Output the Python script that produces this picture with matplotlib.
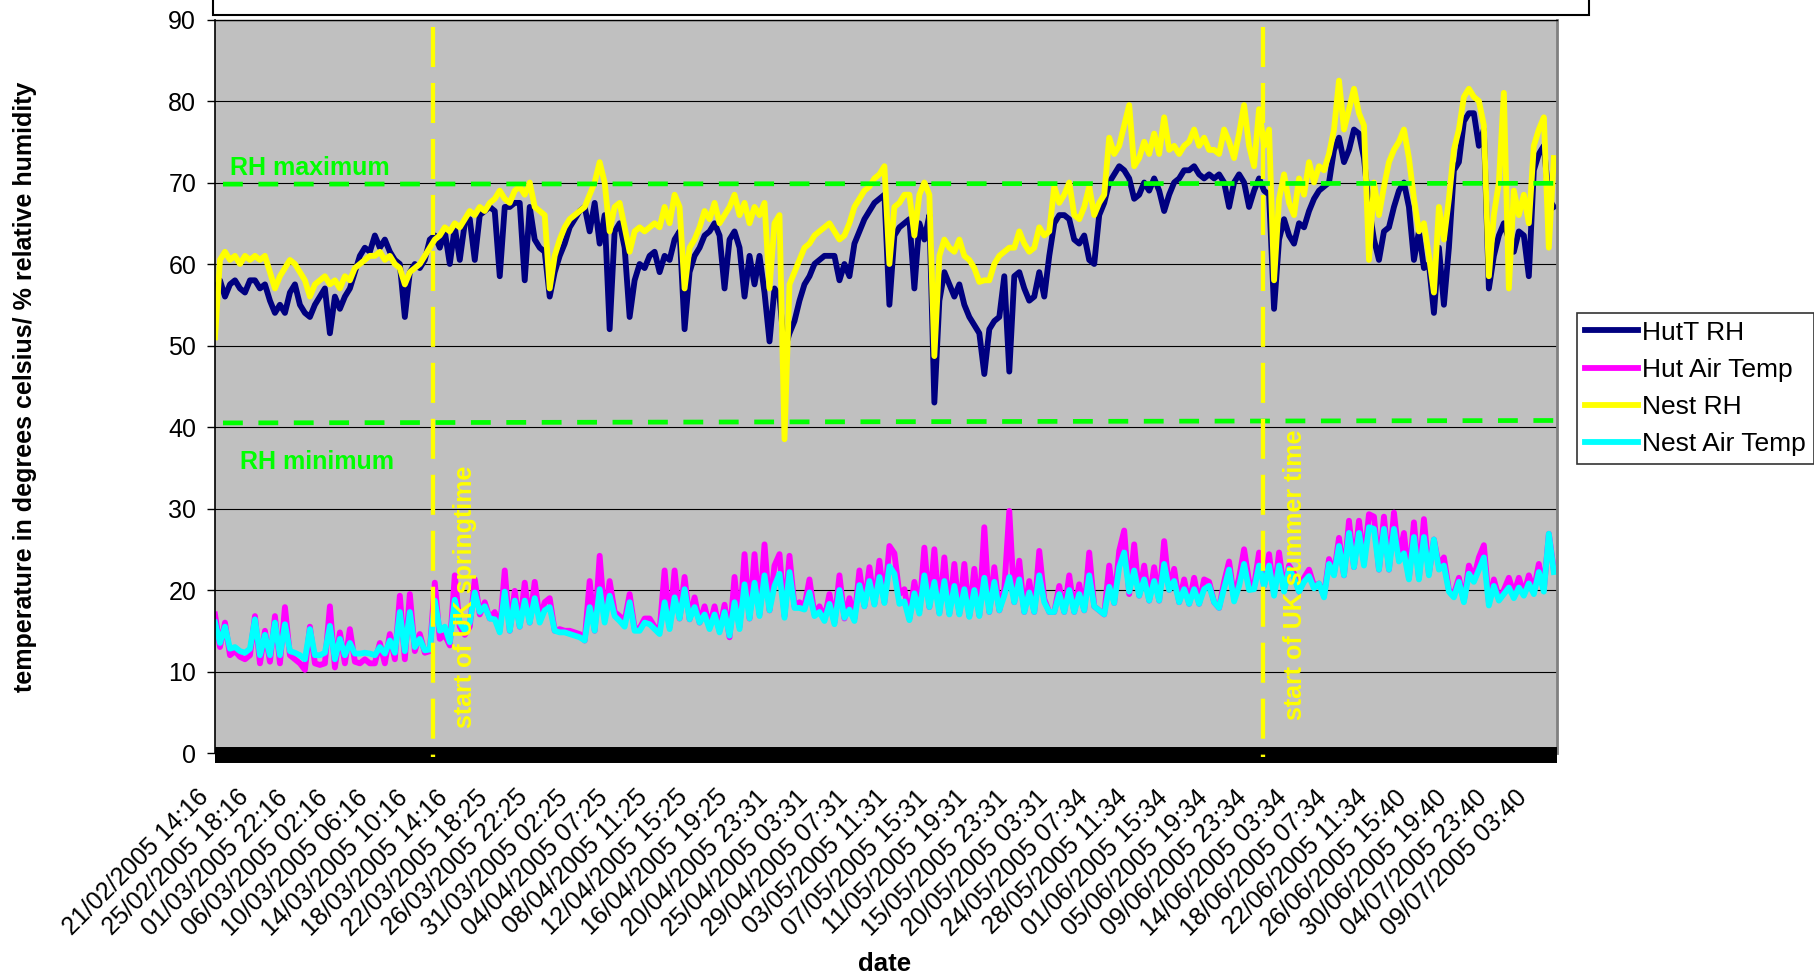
import numpy as np
import matplotlib
matplotlib.use('Agg')
import matplotlib.pyplot as plt
import matplotlib.transforms as mtransforms
from matplotlib.patches import Rectangle

plt.rcParams['font.family'] = ['Liberation Sans', 'DejaVu Sans']

date_labels = [
    "21/02/2005 14:16", "25/02/2005 18:16", "01/03/2005 22:16", "06/03/2005 02:16",
    "10/03/2005 06:16", "14/03/2005 10:16", "18/03/2005 14:16", "22/03/2005 18:25",
    "26/03/2005 22:25", "31/03/2005 02:25", "04/04/2005 07:25", "08/04/2005 11:25",
    "12/04/2005 15:25", "16/04/2005 19:25", "20/04/2005 23:31", "25/04/2005 03:31",
    "29/04/2005 07:31", "03/05/2005 11:31", "07/05/2005 15:31", "11/05/2005 19:31",
    "15/05/2005 23:31", "20/05/2005 03:31", "24/05/2005 07:34", "28/05/2005 11:34",
    "01/06/2005 15:34", "05/06/2005 19:34", "09/06/2005 23:34", "14/06/2005 03:34",
    "18/06/2005 07:34", "22/06/2005 11:34", "26/06/2005 15:40", "30/06/2005 19:40",
    "04/07/2005 23:40", "09/07/2005 03:40",
]

# readings: 8 per label interval
hut_rh = [
    57, 58, 56, 57.5, 58, 57, 56.5, 58,
    58, 57, 57.5, 55.5, 54, 55, 54, 56.5,
    57.5, 55, 54, 53.5, 55, 56, 57, 51.5,
    56, 54.5, 56, 57, 59, 61, 62, 61.5,
    63.5, 62, 63, 61.5, 60.5, 60, 53.5, 59,
    60, 59.5, 60.5, 63, 63.5, 62, 64, 60,
    64.5, 60.5, 65, 65.5, 60.5, 66, 66.5, 67,
    66.5, 58.5, 67, 67, 67.5, 67.5, 58, 67,
    63, 62, 61.5, 56, 59, 61, 62.5, 64.5,
    65.5, 66.5, 67, 64, 67.5, 62.5, 66, 52,
    64, 65, 62, 53.5, 58, 60, 59.5, 61,
    61.5, 59, 61, 60.5, 63, 64, 52, 59,
    61, 62, 63.5, 64, 65, 63.5, 57, 63,
    64, 62, 56, 61, 57.5, 61, 56.5, 50.5,
    57, 56, 49.5, 51.5, 53, 55.5, 57.5, 58.5,
    60, 60.5, 61, 61, 61, 58, 60, 58.5,
    62.5, 64, 65.5, 66.5, 67.5, 68, 68.5, 55,
    63.5, 64.5, 65, 65.5, 57, 65, 63, 66,
    43, 55.5, 59, 57.5, 56, 57.5, 55, 53.5,
    52.5, 51.5, 46.5, 52, 53, 53.5, 58.5, 46.8,
    58.5, 59, 57, 55.5, 56, 59, 56, 61,
    65, 66, 66, 65.5, 63, 62.5, 63.5, 60.5,
    60, 66, 67.5, 70, 71, 72, 71.5, 70.5,
    68, 68.5, 70, 69, 70.5, 69, 66.5, 68.5,
    70, 70.5, 71.5, 71.5, 72, 71, 70.5, 71,
    70.5, 71, 70, 67, 70, 71, 70, 67,
    69, 70.5, 69, 68.5, 54.5, 63, 65.5, 63.5,
    62.5, 65, 64.5, 66.5, 68, 69, 69.5, 70,
    74, 75.5, 72.5, 74, 76.5, 76, 73, 67,
    63, 60.5, 64, 64.5, 67, 69, 70, 67,
    60.5, 64, 59.5, 60, 54, 62, 55, 62,
    71.5, 72.5, 77.5, 78.5, 78.5, 74.5, 76.5, 57,
    61, 63.5, 65, 63, 61.5, 64, 63.5, 58.5,
    71.5, 73.5, 74.5, 68, 67,
]

nest_rh = [
    51, 60.5, 61.5, 60.5, 61, 60, 61, 60.5,
    61, 60.5, 61, 59, 57, 58.5, 59.5, 60.5,
    60, 59, 58, 56, 57.5, 58, 58.5, 57.5,
    58, 57, 58.5, 58, 59.5, 60, 60.5, 61,
    61, 61.5, 60.5, 61, 60, 59.5, 57.5, 59,
    59.5, 60, 61, 62, 63, 63.5, 64.5, 64,
    65, 64.5, 65.5, 66.5, 66, 67, 66.5, 67.5,
    68, 69, 68, 67.5, 69, 69.5, 68.5, 70,
    67, 66.5, 66, 57, 61, 63, 64.5, 65.5,
    66, 66.5, 67, 68.5, 70, 72.5, 70, 64,
    67, 67.5, 64.5, 61.5, 64, 64.5, 64, 64.5,
    65, 64.5, 67, 65, 68.5, 67, 57, 62,
    63, 64.5, 66.5, 65.5, 67.5, 65, 66, 67,
    68.5, 66, 67.5, 65, 67, 66, 67.5, 57,
    65, 66, 38.5, 57.5, 59, 60.5, 62, 62.5,
    63.5, 64, 64.5, 65, 64, 63, 63.5, 65,
    67, 68, 69, 69.5, 70.5, 71, 72, 60,
    67, 67.5, 68.5, 68.5, 63.5, 68.5, 70, 68.5,
    48.7, 61, 63, 62, 61.5, 63, 61, 60.5,
    59.5, 57.8, 58, 58, 60, 61, 61.5, 62,
    62, 64, 62.5, 61.5, 62, 64.5, 63.5, 64,
    69.5, 67.5, 68.5, 70, 66, 65.5, 67, 69.5,
    66, 67.5, 68.5, 75.5, 73.5, 74.5, 77, 79.5,
    72, 73, 75, 73.5, 76, 73.5, 78, 74,
    74.5, 73.5, 74.5, 75, 76.5, 74.5, 75.5, 74,
    74, 73.5, 76.5, 75, 73, 76, 79.5, 74.5,
    72, 79, 74.5, 76.5, 58, 68, 71, 67.5,
    66, 70.5, 68.5, 72.5, 70, 72, 71.5, 73.5,
    76.5, 82.5, 76.5, 79, 81.5, 78.5, 77, 60.5,
    70, 66, 69.5, 72.5, 74, 75, 76.5, 73,
    68, 64, 65, 61, 56.5, 67, 63, 68,
    74, 76.5, 80.5, 81.5, 80.5, 80, 77, 58.5,
    66, 70, 81, 57, 69, 66, 68.5, 65,
    74.5, 76.5, 78, 62, 73,
]

hut_temp = [
    17, 13, 16, 12, 12.5, 11.8, 11.5, 12,
    16.8, 11, 15, 11.2, 16.8, 11, 17.9, 12,
    11.5, 11, 10.2, 15.5, 11, 10.8, 11, 18,
    10.5, 14.8, 11, 15.2, 11.2, 11, 11.5, 11,
    11, 13.5, 11, 14.6, 11.5, 19.3, 11.5, 19.5,
    12.5, 14.6, 12.3, 12.5, 20.9, 14, 14.5, 13.2,
    21.8, 15.5, 14.5, 15.5, 21.3, 17, 18.5, 16.5,
    17.3, 15, 22.4, 15, 19.9, 15.5, 20.9, 16,
    21, 16.5, 18.5, 19, 15, 15.2, 15, 15,
    14.8, 14.6, 13.8, 21.1, 15, 24.2, 16.5, 21.1,
    17.3, 16.8, 16.2, 19.5, 15.3, 15.3, 16.5, 16.5,
    15.5, 15, 22.4, 15.5, 22.4, 16.5, 21.6, 16.4,
    19.1, 16, 18, 15.5, 18, 15, 18.2, 14.2,
    21.6, 15.5, 24.4, 16.5, 24.4, 17, 25.6, 17.5,
    23, 24.4, 16.8, 24.2, 18, 18.5, 18, 21.3,
    17, 18, 16.5, 19.5, 16, 21.8, 16.5, 19,
    16.5, 22.4, 18, 22.8, 18.3, 23.6, 18.5, 25.4,
    24.5, 19.5, 20.1, 16.5, 21, 17.5, 25.2, 17.9,
    25, 17.2, 24, 17.1, 23.2, 17.1, 23.2, 16.8,
    22.6, 16.9, 27.7, 17.3, 22.8, 17.5, 20.1, 29.7,
    18.5, 23.6, 17.3, 21.1, 17.3, 24.8, 18.9, 17.3,
    17.3, 20.5, 17.3, 21.8, 17.3, 20.7, 17.5, 24.6,
    18, 17.5, 17, 23, 18.4, 24.8, 27.3, 19.5,
    25.6, 19.3, 23, 18.7, 22.8, 18.7, 26, 20,
    22.6, 18.5, 21.3, 18.3, 21.5, 18.3, 21.3, 21,
    18.5, 17.8, 21, 23.5, 19, 21.5, 25, 21,
    20.5, 24.6, 20.5, 24.4, 19.5, 24.6, 20, 23,
    22, 19.8, 21.5, 22.5, 20.5, 20.8, 19.3, 23.8,
    22, 26.4, 21.8, 28.5, 22.8, 28.5, 23.5, 29.3,
    29, 22.5, 29, 22.5, 29.5, 24, 27, 21.5,
    28.3, 21.5, 28.7, 22, 26.2, 23, 24, 20,
    19.5, 21.5, 18.7, 23, 21.5, 24, 25.5, 18.5,
    21.3, 19, 20, 21.5, 19.5, 21.5, 19.5, 21.8,
    20, 23.2, 20, 26.9, 22.5,
]

nest_temp = [
    16, 13.5, 15.5, 12.8, 13, 12.5, 12.3, 12.8,
    16.4, 12, 14.5, 12, 16, 12, 15.8, 12.5,
    12.3, 12, 11.5, 15.2, 12, 12, 12.3, 15.6,
    11.5, 14, 12, 13.5, 12.2, 12.2, 12.3, 12.2,
    12, 13, 12.2, 13.8, 12.3, 17.3, 12.5, 17.3,
    13, 14, 12.6, 12.7, 18.7, 15, 15.5, 13.6,
    18.8, 16, 15, 16, 19.7, 17.3, 18, 16.5,
    16.4, 14.8, 19.8, 15, 18.7, 15.5, 18.7, 16,
    19, 16, 17.5, 17.9, 15, 14.8, 14.8, 14.6,
    14.4, 14.2, 13.8, 17.9, 15, 20.1, 16, 19.3,
    16.8, 16.2, 15.5, 18.5, 15, 15, 16, 15.8,
    15.2, 14.6, 18.5, 15.2, 19.1, 16.5, 20.1, 16.4,
    17.9, 16, 17, 15.2, 17, 14.8, 17.3, 14.4,
    18.5, 15.2, 20.7, 16.5, 20.9, 16.8, 21.8, 17.5,
    20.5, 22, 16.6, 22.2, 17.8, 17.8, 17.6, 19.7,
    16.8, 17.3, 16.2, 18.3, 15.8, 20, 16.6, 17.6,
    16.2, 20.6, 18, 21.1, 18.2, 21.6, 18.4, 22.9,
    22, 18.3, 18.6, 16.3, 19.6, 17.1, 21.8, 17.9,
    21, 17.1, 21.1, 17, 20.5, 17, 20.1, 16.7,
    20, 16.8, 21.5, 17.3, 21, 17.5, 19.3, 21.6,
    18.5, 21.3, 17.3, 19.7, 17.3, 21.8, 18.5, 17.3,
    17.3, 19.5, 17.3, 20, 17.3, 19.5, 17.5, 21.8,
    18, 17.5, 17, 20.4, 18.4, 22.8, 24.6, 19.8,
    22.4, 19.3, 21.3, 18.7, 21.1, 18.7, 23.2, 20,
    21.1, 18.5, 20.1, 18.3, 20.1, 18.3, 20.1, 20.5,
    18.5, 17.8, 20.2, 22.5, 18.6, 20.5, 23.2, 20,
    20.1, 23, 20.5, 23, 19.3, 23, 19.8, 22.6,
    21.5, 19.8, 21, 21.7, 20.2, 20.8, 19.1, 23.2,
    21.8, 25.4, 21.8, 27, 22.8, 27, 23, 27.7,
    27.5, 22.5, 27.5, 22.5, 27.5, 23.5, 24.5, 21.3,
    26.5, 21.3, 26.5, 21.8, 26.2, 22.5, 23, 19.8,
    19.1, 21, 18.5, 22, 21, 22.5, 24, 18.1,
    20.5, 18.7, 19.5, 20.3, 19, 20.3, 19.3, 20.8,
    19.5, 22.2, 19.8, 26.9, 22.2,
]

rh_max_ends = [69.8, 69.9]
rh_min_ends = [40.5, 40.8]
spring_pos = 5.45
summer_pos = 26.22
samples_per_label = 8

XMAX = 33.58

fig = plt.figure(figsize=(18.14, 9.77), dpi=100)
ax = fig.add_axes([0.11852, 0.22927, 0.73981, 0.75077])
ax.set_facecolor('#C0C0C0')

x = np.arange(len(hut_rh)) / samples_per_label

l1, = ax.plot(x, hut_rh, color='#000080', lw=4.2, label='HutT RH', zorder=2)
l2, = ax.plot(x, hut_temp, color='#FF00FF', lw=4.2, label='Hut Air Temp', zorder=2)
l3, = ax.plot(x, nest_rh, color='#FFFF00', lw=4.2, label='Nest RH', zorder=2)
l4, = ax.plot(x, nest_temp, color='#00FFFF', lw=4.2, label='Nest Air Temp', zorder=2)

# RH limit lines
ax.plot([0.2, XMAX], rh_max_ends, color='#00FF00', lw=3.4, dashes=(4.2, 3.3), zorder=3)
ax.plot([0.2, XMAX], rh_min_ends, color='#00FF00', lw=3.4, dashes=(4.2, 3.3), zorder=3)

# bottom black band
ax.plot([0, XMAX], [-0.2, -0.2], color='black', lw=11.5, solid_capstyle='butt',
        clip_on=False, zorder=4)

# season lines
for xp in (spring_pos, summer_pos):
    ax.plot([xp, xp], [89.1, -0.45], color='#FFFF00', lw=3.1, dashes=(9.3, 3.7),
            clip_on=False, zorder=5)

ax.text(0.375, 70.9, 'RH maximum', color='#00FF00', fontsize=18, fontweight='bold',
        ha='left', va='baseline', zorder=6)
ax.text(0.62, 34.8, 'RH minimum', color='#00FF00', fontsize=18, fontweight='bold',
        ha='left', va='baseline', zorder=6)
ax.text(6.26, 3.1, 'start of UK springtime', color='#FFFF00', fontsize=18,
        fontweight='bold', rotation=90, ha='center', va='bottom', zorder=6)
ax.text(27.03, 4.0, 'start of UK summer time', color='#FFFF00', fontsize=18,
        fontweight='bold', rotation=90, ha='center', va='bottom', zorder=6)

ax.set_xlim(0, XMAX)
ax.set_ylim(0, 90)
ax.set_yticks(range(0, 91, 10))
ax.yaxis.grid(True, color='black', lw=0.8)
ax.set_axisbelow(True)
ax.tick_params(axis='y', labelsize=18, length=5.5, width=1, pad=8)
ax.set_xticks(np.arange(len(date_labels)))
ax.set_xticklabels(date_labels, rotation=45, ha='right', rotation_mode='anchor', fontsize=18)
ax.tick_params(axis='x', length=0, pad=16)
shift = mtransforms.ScaledTranslation(-19 / 100, -10 / 100, fig.dpi_scale_trans)
for lab in ax.get_xticklabels():
    lab.set_transform(lab.get_transform() + shift)

ax.spines['left'].set_color('black')
ax.spines['left'].set_linewidth(1.2)
ax.spines['right'].set_color('#808080')
ax.spines['right'].set_linewidth(2)
ax.spines['top'].set_color('black')
ax.spines['top'].set_linewidth(1)
ax.spines['bottom'].set_visible(False)

leg = fig.legend([l1, l2, l3, l4], ['HutT RH', 'Hut Air Temp', 'Nest RH', 'Nest Air Temp'],
                 loc='upper left', bbox_to_anchor=(1577 / 1814, 1 - 312.7 / 977),
                 bbox_transform=fig.transFigure, frameon=True, fancybox=False,
                 edgecolor='black', fontsize=19, handlelength=2.0, handletextpad=0.18,
                 labelspacing=0.5, borderpad=0.3, borderaxespad=0)
leg.get_frame().set_linewidth(1.2)

fig.patches.append(Rectangle((213 / 1814, 1 - 15 / 977), (1589 - 213) / 1814, 0.05,
                             transform=fig.transFigure, facecolor='white',
                             edgecolor='black', lw=1.5))

fig.text(25.5 / 1814, 1 - 386.5 / 977, 'temperature in degrees celsius/ % relative humidity',
         rotation=90, ha='center', va='center', fontsize=18, fontweight='bold')
fig.text(885 / 1814, 1 - 964 / 977, 'date', ha='center', va='center', fontsize=18.5,
         fontweight='bold')

fig.savefig('out.png', dpi=100, facecolor='white')
